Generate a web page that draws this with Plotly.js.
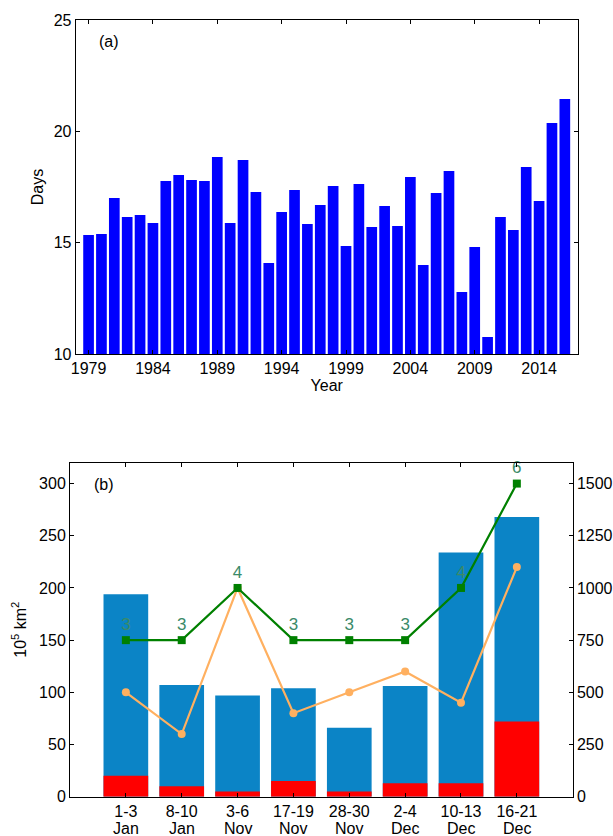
<!DOCTYPE html>
<html>
<head>
<meta charset="utf-8">
<script src="https://cdn.plot.ly/plotly-3.0.1.min.js"></script>
<style>html,body{margin:0;padding:0;background:#fff;}#chart{width:613px;height:836px;}</style>
</head>
<body>
<div id="chart"></div>
<script>
// ---- Panel (a) data ----
var years = [1979,1980,1981,1982,1983,1984,1985,1986,1987,1988,1989,1990,1991,1992,1993,1994,1995,1996,1997,1998,
             1999,2000,2001,2002,2003,2004,2005,2006,2007,2008,2009,2010,2011,2012,2013,2014,2015,2016];
var days = [15.34,15.39,17.01,16.15,16.24,15.88,17.77,18.04,17.81,17.77,18.85,15.88,18.71,17.28,14.09,16.38,17.37,15.84,16.69,17.54,
            14.85,17.63,15.70,16.65,15.75,17.95,14.00,17.23,18.22,12.78,14.81,10.76,16.15,15.57,18.40,16.87,20.37,21.45];
var yearTicks = [1979,1984,1989,1994,1999,2004,2009,2014];

// ---- Panel (b) data ----
var dayRanges = ["1-3","8-10","3-6","17-19","28-30","2-4","10-13","16-21"];
var months = ["Jan","Jan","Nov","Nov","Nov","Dec","Dec","Dec"];
var totalArea = [194,107,97,104,66,106,234,268];
var redArea = [20,10,5,15,5,13,13,72];
var greenValues = [750,750,1000,750,750,750,1000,1500];
var greenLabels = ["3","3","4","3","3","3","4","6"];
var orangeValues = [500,300,1000,400,500,600,450,1100];
var leftTicks = [0,50,100,150,200,250,300];
var rightTicks = [0,250,500,750,1000,1250,1500];

var W = 613, H = 836;
function fx(px){return px/W;}
function fy(py){return 1-py/H;}

var catIdx = dayRanges.map(function(_,i){return i;});

var FONT = "Liberation Sans, Arial, sans-serif";
var tf = {family: FONT, size: 16, color: "#000"};

var traces = [
  {type:"bar", x: years, y: days, xaxis:"x", yaxis:"y", marker:{color:"#0000FF"}, width:0.83, hoverinfo:"skip"},
  {type:"bar", x: catIdx, y: totalArea, xaxis:"x2", yaxis:"y2", marker:{color:"#0B84C6"}, width:0.8},
  {type:"bar", x: catIdx, y: redArea, xaxis:"x2", yaxis:"y2", marker:{color:"#FF0000"}, width:0.8},
  {type:"scatter", mode:"lines+markers", x: catIdx, y: orangeValues, xaxis:"x2", yaxis:"y3",
   line:{color:"#FFB060", width:2.2}, marker:{color:"#FFB060", size:8, symbol:"circle"}},
  {type:"scatter", mode:"lines+markers+text", x: catIdx, y: greenValues, xaxis:"x2", yaxis:"y3",
   text: greenLabels, textposition:"top center", cliponaxis:false,
   textfont:{family:FONT, size:17, color:"#3A8A68"},
   line:{color:"#008000", width:2.2}, marker:{color:"#008000", size:8, symbol:"square"}}
];

var axisCommon = {showline:true, linecolor:"#000", linewidth:1, ticks:"inside", ticklen:4, tickcolor:"#000",
                  showgrid:false, zeroline:false, tickfont:tf, automargin:false};

var layout = {
  width: W, height: H,
  margin:{l:0,r:0,t:0,b:0},
  paper_bgcolor:"#fff", plot_bgcolor:"#fff",
  showlegend:false,
  barmode:"overlay",
  font:{family:FONT, size:16, color:"#000"},
  xaxis: Object.assign({}, axisCommon, {
    domain:[fx(75.7), fx(577.7)], anchor:"y", range:[1978,2017],
    tickmode:"array", tickvals: yearTicks, mirror:"ticks",
    title:{text:"Year", font:{family:FONT,size:16}, standoff:2}
  }),
  yaxis: Object.assign({}, axisCommon, {
    domain:[fy(354), fy(20)], anchor:"x", range:[10,25], tickmode:"array", tickvals:[10,15,20,25], mirror:"ticks",
    title:{text:"Days", font:{family:FONT,size:16}, standoff:6}
  }),
  xaxis2: Object.assign({}, axisCommon, {
    domain:[fx(70), fx(572.7)], anchor:"y2", range:[-1,8], type:"linear",
    tickmode:"array", tickvals: catIdx, ticktext: dayRanges, mirror:"ticks"
  }),
  yaxis2: Object.assign({}, axisCommon, {
    domain:[fy(796.7), fy(462.7)], anchor:"x2", range:[0,320], tickmode:"array", tickvals:leftTicks,
    title:{text:"10<sup>5</sup> km<sup>2</sup>", font:{family:FONT,size:16}, standoff:8}
  }),
  yaxis3: Object.assign({}, axisCommon, {
    overlaying:"y2", side:"right", anchor:"x2", range:[0,1600], tickmode:"array", tickvals:rightTicks
  }),
  annotations: [
    {text:"(a)", xref:"paper", yref:"paper", x:fx(97), y:fy(42), xanchor:"left", yanchor:"middle", showarrow:false, font:{family:FONT,size:16}},
    {text:"(b)", xref:"paper", yref:"paper", x:fx(92), y:fy(485), xanchor:"left", yanchor:"middle", showarrow:false, font:{family:FONT,size:16}}
  ].concat(months.map(function(m,i){
    return {text:m, xref:"x2", yref:"paper", x:i, y:fy(828), yanchor:"middle", xanchor:"center", showarrow:false, font:tf};
  }))
};

Plotly.newPlot("chart", traces, layout, {staticPlot:true, displayModeBar:false});
</script>
</body>
</html>
